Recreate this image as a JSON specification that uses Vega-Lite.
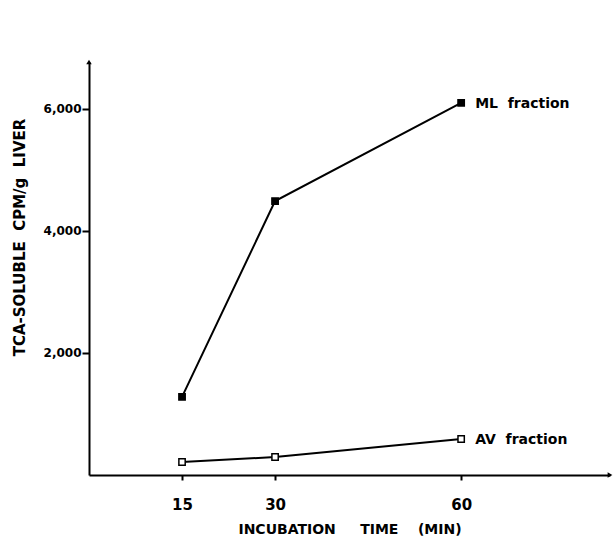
{
  "$schema": "https://vega.github.io/schema/vega-lite/v6.json",
  "width": 521,
  "height": 413,
  "autosize": {"type": "none"},
  "padding": {"left": 89, "top": 62, "right": 5, "bottom": 64},
  "background": "white",
  "config": {
    "view": {"stroke": null},
    "font": "DejaVu Sans",
    "axis": {"grid": false, "domainColor": "black", "tickColor": "black", "labelColor": "black", "titleColor": "black", "domainWidth": 2, "tickWidth": 2}
  },
  "datasets": {
    "series": [
      {"series": "ML", "time": 15, "cpm": 1280},
      {"series": "ML", "time": 30, "cpm": 4490},
      {"series": "ML", "time": 60, "cpm": 6100},
      {"series": "AV", "time": 15, "cpm": 213},
      {"series": "AV", "time": 30, "cpm": 295},
      {"series": "AV", "time": 60, "cpm": 590}
    ],
    "labels": [
      {"series": "ML", "time": 60, "cpm": 6100, "label": "ML\u00a0\u00a0fraction"},
      {"series": "AV", "time": 60, "cpm": 590, "label": "AV\u00a0\u00a0fraction"}
    ],
    "arrows": [
      {"time": 0, "cpm": 6770, "shape": "triangle-up"},
      {"time": 84, "cpm": 0, "shape": "triangle-right"}
    ]
  },
  "layer": [
    {
      "data": {"name": "series"},
      "mark": {"type": "line", "color": "black", "strokeWidth": 2},
      "encoding": {
        "x": {
          "field": "time", "type": "quantitative",
          "scale": {"domain": [0, 84], "nice": false, "zero": true},
          "axis": {"values": [15, 30, 60], "tickSize": 5, "labelFontSize": 15, "labelFontWeight": "bold", "labelPadding": 17, "title": "INCUBATION\u00a0\u00a0\u00a0\u00a0\u00a0TIME\u00a0\u00a0\u00a0\u00a0(MIN)", "titleFontSize": 14, "titleFontWeight": "bold", "titlePadding": 10}
        },
        "y": {
          "field": "cpm", "type": "quantitative",
          "scale": {"domain": [0, 6770], "nice": false},
          "axis": {"values": [2000, 4000, 6000], "format": ",d", "tickSize": 7, "labelFontSize": 12, "labelFontWeight": "bold", "labelPadding": 1, "title": "TCA-SOLUBLE\u00a0\u00a0CPM/g\u00a0\u00a0LIVER", "titleFontSize": 15, "titleFontWeight": "bold", "titleX": -62, "titleY": 175}
        },
        "detail": {"field": "series"}
      }
    },
    {
      "data": {"name": "series"},
      "mark": {"type": "point", "shape": "square", "size": 40, "stroke": "black", "strokeWidth": 1.5, "opacity": 1},
      "encoding": {
        "x": {"field": "time", "type": "quantitative"},
        "y": {"field": "cpm", "type": "quantitative"},
        "fill": {"field": "series", "type": "nominal", "scale": {"domain": ["ML", "AV"], "range": ["black", "white"]}, "legend": null}
      }
    },
    {
      "data": {"name": "labels"},
      "mark": {"type": "text", "align": "left", "dx": 14, "dy": 1, "fontSize": 14, "fontWeight": "bold", "color": "black"},
      "encoding": {
        "x": {"field": "time", "type": "quantitative"},
        "y": {"field": "cpm", "type": "quantitative"},
        "text": {"field": "label"}
      }
    },
    {
      "data": {"name": "arrows"},
      "mark": {"type": "point", "filled": true, "color": "black", "size": 30, "opacity": 1},
      "encoding": {
        "x": {"field": "time", "type": "quantitative"},
        "y": {"field": "cpm", "type": "quantitative"},
        "shape": {"field": "shape", "type": "nominal", "scale": null}
      }
    }
  ]
}
